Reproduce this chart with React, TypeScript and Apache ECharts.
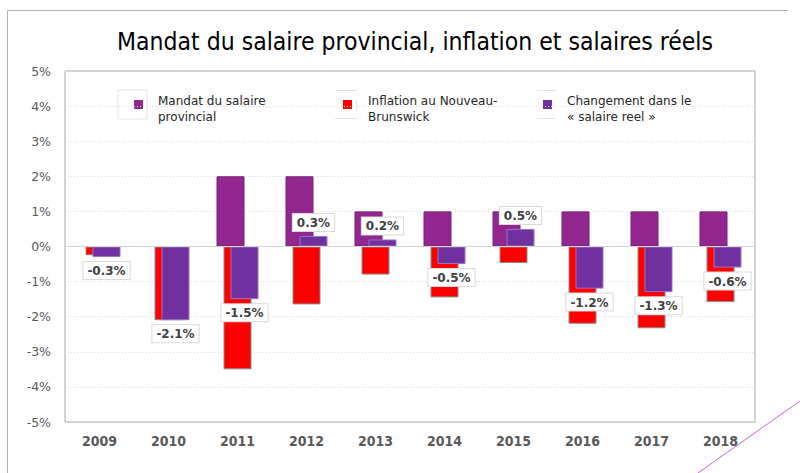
import React, { useEffect, useRef } from "react";
import * as echarts from "echarts";

const years = ["2009", "2010", "2011", "2012", "2013", "2014", "2015", "2016", "2017", "2018"];
const mandate = [0, 0, 2, 2, 1, 1, 1, 1, 1, 1];
const inflation = [-0.25, -2.1, -3.5, -1.65, -0.8, -1.45, -0.47, -2.2, -2.33, -1.58];
const realWage = [-0.3, -2.1, -1.5, 0.3, 0.2, -0.5, 0.5, -1.2, -1.3, -0.6];
const seriesNames = [
  "Mandat du salaire provincial",
  "Inflation au Nouveau-Brunswick",
  "Changement dans le « salaire reel »",
];
const legendLines = [
  ["Mandat du salaire", "provincial"],
  ["Inflation au Nouveau-", "Brunswick"],
  ["Changement dans le", "« salaire reel »"],
];
const yTicks = { min: -5, max: 5, interval: 1 };
const title = "Mandat du salaire provincial, inflation et salaires réels";

const colors = ["#92278F", "#FF0000", "#7030A0"];
const FONT = "'DejaVu Sans Condensed', 'Liberation Sans Narrow', 'Noto Sans', sans-serif";
const FONT2 = "'DejaVu Sans', 'Noto Sans', sans-serif";

export default function App() {
  const ref = useRef<HTMLDivElement>(null);
  useEffect(() => {
    if (!ref.current) return;
    const chart = echarts.init(ref.current, null, { renderer: "svg" });
    const legendPos = [
      { ix: 134, tx: 158 },
      { ix: 343, tx: 368 },
      { ix: 543, tx: 567 },
    ];
    const legendGraphics: any[] = [];
    legendLines.forEach((lines, i) => {
      legendGraphics.push({
        type: "rect",
        shape: { x: legendPos[i].ix, y: 100, width: 9, height: 9 },
        style: { fill: colors[i] },
        silent: true,
      });
      legendGraphics.push({
        type: "text",
        x: legendPos[i].tx,
        y: 93,
        style: {
          text: lines.join("\n"),
          fill: "#262626",
          font: `12px ${FONT2}`,
          lineHeight: 16,
          textVerticalAlign: "top",
        },
        silent: true,
      });
    });
    const faint = "#e4e4e4";
    const decor: any[] = [
      { type: "rect", shape: { x: 118, y: 90, width: 29, height: 29 }, style: { fill: "none", stroke: faint, lineWidth: 1 }, silent: true },
      { type: "line", shape: { x1: 335, y1: 90.5, x2: 357, y2: 90.5 }, style: { stroke: faint, lineWidth: 1 }, silent: true },
      { type: "line", shape: { x1: 335, y1: 118.5, x2: 357, y2: 118.5 }, style: { stroke: faint, lineWidth: 1 }, silent: true },
      { type: "line", shape: { x1: 356.5, y1: 100, x2: 356.5, y2: 110 }, style: { stroke: faint, lineWidth: 1 }, silent: true },
      { type: "line", shape: { x1: 537, y1: 90.5, x2: 556, y2: 90.5 }, style: { stroke: faint, lineWidth: 1 }, silent: true },
      { type: "line", shape: { x1: 537, y1: 118.5, x2: 556, y2: 118.5 }, style: { stroke: faint, lineWidth: 1 }, silent: true },
      { type: "line", shape: { x1: 7.5, y1: 10.5, x2: 788, y2: 10.5 }, style: { stroke: "#b0b0b0", lineWidth: 1 }, silent: true },
      { type: "line", shape: { x1: 7.5, y1: 10.5, x2: 7.5, y2: 473 }, style: { stroke: "#b0b0b0", lineWidth: 1 }, silent: true },
      { type: "line", shape: { x1: 800, y1: 401, x2: 698, y2: 473 }, style: { stroke: "#b86cc8", lineWidth: 1 }, silent: true },
    ];
    chart.setOption({
      animation: false,
      backgroundColor: "#ffffff",
      title: {
        text: title,
        left: 410,
        textAlign: "center",
        top: 24,
        textStyle: { fontFamily: FONT, fontSize: 24.5, fontWeight: "normal", color: "#000000" },
      },
      grid: {
        left: 65,
        right: 45,
        top: 71,
        bottom: 51,
        show: true,
        borderColor: "#a6a6a6",
        borderWidth: 1,
        backgroundColor: "transparent",
      },
      xAxis: {
        type: "category",
        data: years,
        axisLine: { show: false },
        axisTick: { show: false },
        axisLabel: { fontFamily: FONT, fontSize: 14, fontWeight: "bold", color: "#595959", margin: 12 },
      },
      yAxis: {
        type: "value",
        min: yTicks.min,
        max: yTicks.max,
        interval: yTicks.interval,
        axisLine: { show: false },
        axisTick: { show: false },
        axisLabel: { formatter: "{value}%", fontFamily: FONT2, fontSize: 12.5, color: "#595959", margin: 14 },
        splitLine: { lineStyle: { color: "#d9d9d9", type: [1, 2], width: 1 } },
      },
      series: [
        {
          name: seriesNames[0],
          type: "bar",
          data: mandate,
          barWidth: 28,
          barGap: "-75%",
          itemStyle: { color: colors[0], borderColor: "#7a1f78", borderWidth: 1 },
          markLine: {
            silent: true,
            symbol: "none",
            label: { show: false },
            lineStyle: { color: "#d4d4d4", type: "solid", width: 1 },
            data: [{ yAxis: 0 }],
          },
        },
        {
          name: seriesNames[1],
          type: "bar",
          data: inflation,
          barWidth: 28,
          barGap: "-75%",
          itemStyle: { color: colors[1], borderColor: "#8a8a8a", borderWidth: 1 },
        },
        {
          name: seriesNames[2],
          type: "bar",
          barWidth: 28,
          barGap: "-75%",
          data: realWage.map((v) => ({
            value: v,
            label: { position: v < 0 ? "bottom" : "top" },
          })),
          itemStyle: { color: colors[2], borderColor: "#9a74c4", borderWidth: 1 },
          label: {
            show: true,
            distance: 5,
            formatter: (p: any) => `${Number(p.value).toFixed(1)}%`,
            fontFamily: FONT2,
            fontSize: 12,
            fontWeight: "bold",
            color: "#404040",
            backgroundColor: "#ffffff",
            borderColor: "#d9d9d9",
            borderWidth: 1,
            padding: [3, 4, 2, 4],
          },
        },
      ],
      graphic: [...decor, ...legendGraphics],
    });
    return () => chart.dispose();
  }, []);
  return (
    <div
      ref={ref}
      style={{ position: "fixed", left: 0, top: 0, width: 800, height: 473, background: "#fff" }}
    />
  );
}
